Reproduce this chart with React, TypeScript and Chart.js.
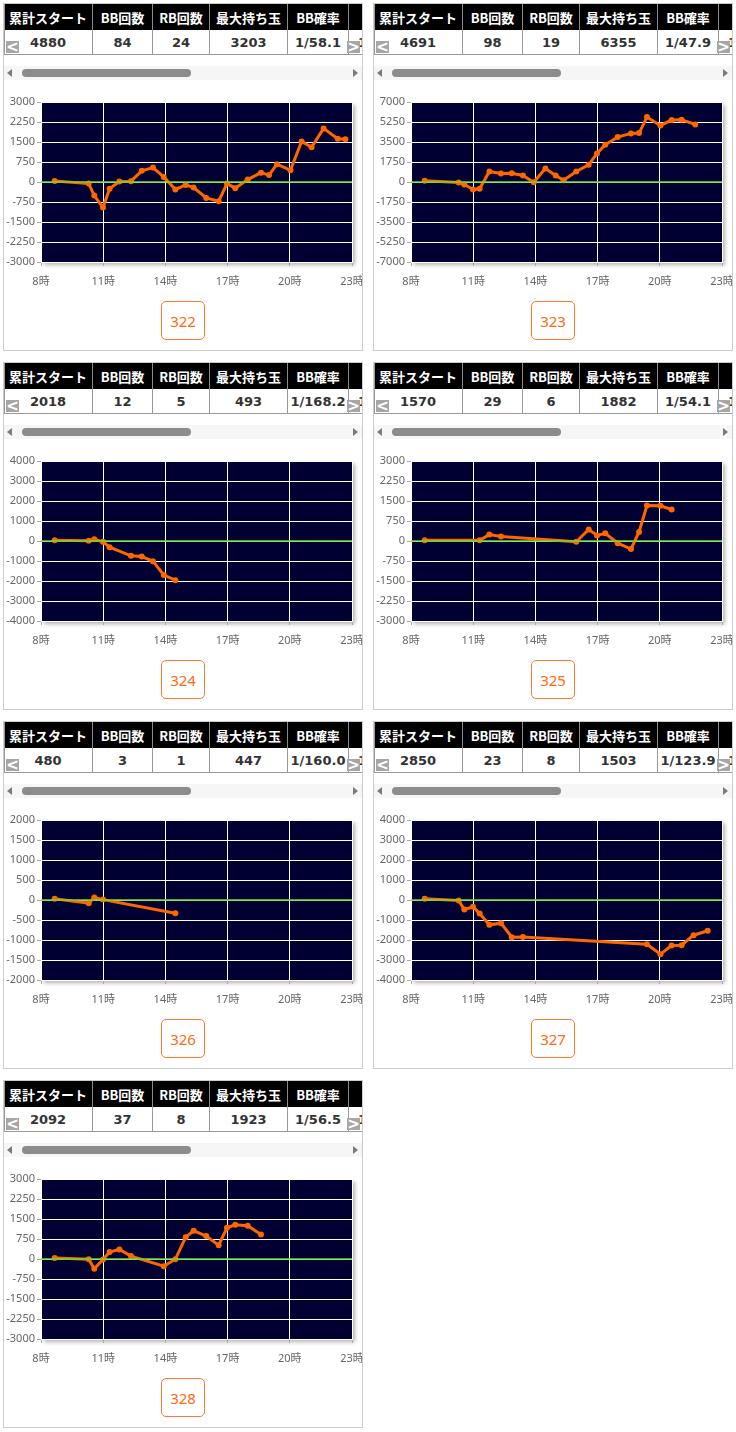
import React, { useEffect, useRef } from "react";
import { Chart, registerables } from "chart.js";

Chart.register(...registerables);
Chart.defaults.font.family = "'Noto Sans', 'Noto Sans CJK JP', sans-serif";

// ---- table data ----
const headers = ["累計スタート", "BB回数", "RB回数", "最大持ち玉", "BB確率", "RB確率"];
const starts = ["4880", "4691", "2018", "1570", "480", "2850", "2092"];
const bbCounts = ["84", "98", "12", "29", "3", "23", "37"];
const rbCounts = ["24", "19", "5", "6", "1", "8", "8"];
const maxBalls = ["3203", "6355", "493", "1882", "447", "1503", "1923"];
const bbRates = ["1/58.1", "1/47.9", "1/168.2", "1/54.1", "1/160.0", "1/123.9", "1/56.5"];
const rbRates = ["1/203.3", "1/246.9", "1/403.6", "1/261.7", "1/480.0", "1/356.3", "1/261.5"];
const machineNos = ["322", "323", "324", "325", "326", "327", "328"];

// ---- axis data ----
const xTickHours = [8, 11, 14, 17, 20, 23];
const yMaxes = [3000, 7000, 4000, 3000, 2000, 4000, 3000];
const ySteps = [750, 1750, 1000, 750, 500, 1000, 750];

// ---- series data (hour, balls) ----
const hours322 = [8.66, 10.3, 10.57, 10.99, 11.31, 11.78, 12.34, 12.86, 13.4, 13.92, 14.48, 14.98, 15.36, 15.97, 16.57, 16.97, 17.37, 17.97, 18.61, 19.0, 19.38, 20.03, 20.57, 21.05, 21.63, 22.31, 22.68];
const balls322 = [40, -60, -510, -960, -250, 20, 30, 420, 540, 190, -280, -110, -210, -600, -720, -60, -230, 90, 350, 260, 670, 440, 1520, 1300, 2010, 1620, 1600];

const hours323 = [8.66, 10.3, 10.57, 10.99, 11.31, 11.78, 12.34, 12.86, 13.4, 13.92, 14.48, 14.98, 15.36, 15.97, 16.57, 16.97, 17.37, 17.97, 18.61, 19.0, 19.38, 20.03, 20.57, 21.05, 21.71];
const balls323 = [100, -40, -220, -660, -600, 920, 750, 770, 570, -20, 1180, 570, 160, 920, 1500, 2500, 3260, 3930, 4250, 4280, 5680, 4950, 5420, 5450, 5040];

const hours324 = [8.66, 10.3, 10.57, 10.99, 11.31, 12.34, 12.86, 13.4, 13.92, 14.48];
const balls324 = [40, 10, 90, -40, -310, -740, -780, -1010, -1700, -1960];

const hours325 = [8.66, 11.31, 11.78, 12.34, 15.97, 16.57, 16.97, 17.37, 17.97, 18.61, 19.0, 19.38, 20.03, 20.57];
const balls325 = [30, 30, 240, 170, -30, 430, 210, 290, -80, -300, 340, 1330, 1320, 1180];

const hours326 = [8.66, 10.3, 10.57, 10.99, 14.48];
const balls326 = [30, -80, 60, 10, -330];

const hours327 = [8.66, 10.3, 10.57, 10.99, 11.31, 11.78, 12.34, 12.86, 13.4, 19.38, 20.03, 20.57, 21.05, 21.63, 22.31];
const balls327 = [60, -20, -480, -340, -680, -1240, -1160, -1860, -1850, -2210, -2710, -2280, -2260, -1760, -1540];

const hours328 = [8.66, 10.3, 10.57, 10.99, 11.31, 11.78, 12.34, 13.92, 14.48, 14.98, 15.36, 15.97, 16.57, 16.97, 17.37, 17.97, 18.61];
const balls328 = [40, -10, -370, -20, 260, 360, 110, -270, -10, 820, 1060, 860, 520, 1170, 1280, 1250, 920];

const seriesHours = [hours322, hours323, hours324, hours325, hours326, hours327, hours328];
const seriesBalls = [balls322, balls323, balls324, balls325, balls326, balls327, balls328];

const colEdges = [0, 89, 149, 206, 284, 345, 420];

const plotBg = {
  id: "plotBg",
  beforeDraw(chart: any) {
    const { ctx, chartArea: a } = chart;
    ctx.save();
    ctx.shadowColor = "rgba(0,0,0,0.3)";
    ctx.shadowBlur = 4;
    ctx.shadowOffsetX = 3;
    ctx.shadowOffsetY = 3;
    ctx.fillStyle = "#000033";
    ctx.fillRect(a.left, a.top, a.right - a.left, a.bottom - a.top);
    ctx.restore();
  },
};

function LineChart({ idx }: { idx: number }) {
  const ref = useRef<HTMLCanvasElement>(null);
  useEffect(() => {
    const hours = seriesHours[idx];
    const balls = seriesBalls[idx];
    const yMax = yMaxes[idx];
    const chart = new Chart(ref.current as HTMLCanvasElement, {
      type: "line",
      data: {
        datasets: [
          {
            data: [
              { x: xTickHours[0], y: 0 },
              { x: xTickHours[xTickHours.length - 1], y: 0 },
            ],
            borderColor: "#66dd33",
            borderWidth: 1.5,
            pointRadius: 0,
            order: 0,
          },
          {
            data: hours.map((h, i) => ({ x: h, y: balls[i] })),
            borderColor: "#ff6600",
            backgroundColor: "#ff6600",
            borderWidth: 3,
            pointRadius: 3,
            pointBorderWidth: 0,
            tension: 0,
            order: 1,
          },
        ],
      },
      options: {
        animation: false,
        responsive: false,
        devicePixelRatio: 1,
        layout: { padding: { top: 10, right: 26, left: 0, bottom: 0 } },
        plugins: { legend: { display: false }, tooltip: { enabled: false } },
        scales: {
          x: {
            type: "linear",
            min: xTickHours[0],
            max: xTickHours[xTickHours.length - 1],
            ticks: {
              stepSize: 3,
              autoSkip: false,
              maxRotation: 0,
              color: "#666",
              font: { size: 11 },
              padding: 9,
              callback: (v: any) => v + "時",
            },
            grid: { color: "#ffffff", tickColor: "#aaaaaa", tickLength: 4 },
            border: { color: "#ffffff" },
            afterFit: (s: any) => {
              s.height = 30;
            },
          },
          y: {
            min: -yMax,
            max: yMax,
            ticks: {
              stepSize: ySteps[idx],
              color: "#666",
              font: { size: 11 },
              padding: 2,
              callback: (v: any) => String(v),
            },
            grid: { color: "#ffffff", tickColor: "#aaaaaa", tickLength: 4 },
            border: { color: "#ffffff" },
            afterFit: (s: any) => {
              s.width = 37;
            },
          },
        },
      },
      plugins: [plotBg],
    } as any);
    return () => chart.destroy();
  }, [idx]);
  return (
    <canvas
      ref={ref}
      width={374}
      height={200}
      style={{ position: "absolute", left: 0, top: 88, width: 374, height: 200 }}
    />
  );
}

function Panel({ idx }: { idx: number }) {
  const col = idx % 2;
  const row = Math.floor(idx / 2);
  const left = 3 + col * 370;
  const top = 3 + row * 359;
  const values = [starts[idx], bbCounts[idx], rbCounts[idx], maxBalls[idx], bbRates[idx], rbRates[idx]];
  return (
    <div
      style={{
        position: "absolute",
        left,
        top,
        width: 358,
        height: 346,
        border: "1px solid #cccccc",
        background: "#fff",
        overflow: "hidden",
      }}
    >
      {/* header */}
      {headers.map((h, i) => (
        <div
          key={"h" + i}
          style={{
            position: "absolute",
            left: colEdges[i],
            top: 0,
            width: colEdges[i + 1] - colEdges[i] - 1,
            height: 26,
            background: "#000",
            borderRight: "1px solid #8a8a8a",
            color: "#fff",
            font: "bold 13px 'Noto Sans CJK JP', sans-serif",
            display: "flex",
            alignItems: "center",
            justifyContent: i === 5 ? "flex-start" : "center",
            textIndent: i === 5 ? 30 : 0,
            whiteSpace: "nowrap",
          }}
        >
          {h}
        </div>
      ))}
      {/* data row */}
      {values.map((v, i) => (
        <div
          key={"v" + i}
          style={{
            position: "absolute",
            left: colEdges[i],
            top: 26,
            width: colEdges[i + 1] - colEdges[i] - 1,
            height: 24,
            borderRight: "1px solid #999",
            borderBottom: "1px solid #999",
            color: "#333",
            font: "bold 13px 'DejaVu Sans', sans-serif",
            display: "flex",
            alignItems: "center",
            justifyContent: i === 5 ? "flex-start" : "center",
            paddingLeft: i === 5 ? 9 : 0,
            whiteSpace: "nowrap",
          }}
        >
          {v}
        </div>
      ))}
      <div
        style={{
          position: "absolute",
          left: 0,
          top: 0,
          width: 0,
          height: 51,
          borderLeft: "1px solid #999",
        }}
      />
      {/* prev/next buttons */}
      <div
        style={{
          position: "absolute",
          left: 2,
          top: 37,
          width: 13,
          height: 12,
          background: "#a6a6a6",
          color: "#fff",
          font: "bold 15px 'DejaVu Sans', sans-serif",
          lineHeight: "12px",
          textAlign: "center",
        }}
      >
        &lt;
      </div>
      <div
        style={{
          position: "absolute",
          left: 343,
          top: 37,
          width: 13,
          height: 12,
          background: "#a6a6a6",
          color: "#fff",
          font: "bold 15px 'DejaVu Sans', sans-serif",
          lineHeight: "12px",
          textAlign: "center",
        }}
      >
        &gt;
      </div>
      {/* scrollbar */}
      <div
        style={{
          position: "absolute",
          left: 0,
          top: 62,
          width: 358,
          height: 14,
          background: "#f6f6f6",
        }}
      />
      <div
        style={{
          position: "absolute",
          left: 3,
          top: 65,
          width: 0,
          height: 0,
          borderTop: "4px solid transparent",
          borderBottom: "4px solid transparent",
          borderRight: "5px solid #7a7a7a",
        }}
      />
      <div
        style={{
          position: "absolute",
          left: 18,
          top: 65,
          width: 169,
          height: 8,
          borderRadius: 4,
          background: "#8c8c8c",
        }}
      />
      <div
        style={{
          position: "absolute",
          left: 349,
          top: 65,
          width: 0,
          height: 0,
          borderTop: "4px solid transparent",
          borderBottom: "4px solid transparent",
          borderLeft: "5px solid #7a7a7a",
        }}
      />
      <LineChart idx={idx} />
      {/* machine number button */}
      <div
        style={{
          position: "absolute",
          left: 157,
          top: 297,
          width: 42,
          height: 37,
          border: "1px solid #ff7a2a",
          borderRadius: 5,
          color: "#ff6a13",
          font: "15px 'Noto Sans', sans-serif",
          display: "flex",
          alignItems: "center",
          justifyContent: "center",
        }}
      >
        {machineNos[idx]}
      </div>
    </div>
  );
}

export default function App() {
  return (
    <div
      style={{
        position: "absolute",
        left: 0,
        top: 0,
        width: 736,
        height: 1432,
        background: "#fff",
      }}
    >
      {machineNos.map((_, i) => (
        <Panel key={i} idx={i} />
      ))}
    </div>
  );
}
